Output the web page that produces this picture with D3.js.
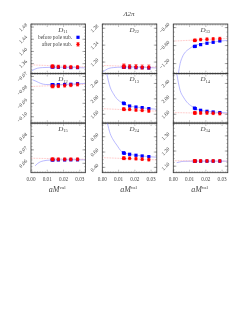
<!DOCTYPE html>
<html>
<head>
<meta charset="utf-8">
<script src="https://cdn.jsdelivr.net/npm/d3@7"></script>
<style>
  body { margin: 0; background: #fff; }
  svg { transform: translateZ(0); }
  text { font-family: "Liberation Serif", "DejaVu Serif", serif; fill: #444; }
</style>
</head>
<body>
<svg id="chart" width="241" height="312"></svg>
<script>
'use strict';

/* values */

var xVals = [0.0130, 0.0135, 0.0168, 0.0207, 0.0245, 0.0286];
var xTicks = [0.00, 0.01, 0.02, 0.03];
var xDomain = [0, 0.0335];

var panelSubs = ['11', '22', '33', '12', '13', '14', '15', '24', '34'];

var yDomains = [[1.327, 1.49], [1.1725, 1.29], [-1.425, -0.32],
                [-0.1048, -0.0678], [1.368, 2.658], [1.368, 2.658],
                [0.053, 0.09], [0.33, 0.98], [1.057, 1.385]];

var yTicks = [[1.36, 1.40, 1.44, 1.48], [1.20, 1.24, 1.28], [-1.20, -0.80, -0.40],
              [-0.10, -0.09, -0.08, -0.07], [1.60, 2.00, 2.40], [1.60, 2.00, 2.40],
              [0.06, 0.07, 0.08], [0.40, 0.60, 0.80], [1.10, 1.20, 1.30]];

// before pole subtraction (blue squares)
var beforeSub = [
  [1.349, 1.349, 1.348, 1.348, 1.347, 1.347],
  [1.188, 1.188, 1.188, 1.187, 1.187, 1.186],
  [-0.820, -0.816, -0.778, -0.748, -0.727, -0.697],
  [-0.0761, -0.0761, -0.0761, -0.0760, -0.0758, -0.0754],
  [1.890, 1.876, 1.814, 1.788, 1.773, 1.747],
  [1.760, 1.747, 1.703, 1.677, 1.659, 1.644],
  [0.0625, 0.0625, 0.0625, 0.0625, 0.0626, 0.0626],
  [0.590, 0.584, 0.571, 0.558, 0.549, 0.540],
  [1.133, 1.133, 1.133, 1.133, 1.133, 1.133]
];

// after pole subtraction (red circles)
var afterSub = [
  [1.351, 1.351, 1.350, 1.350, 1.349, 1.349],
  [1.190, 1.190, 1.189, 1.189, 1.188, 1.188],
  [-0.685, -0.682, -0.666, -0.658, -0.652, -0.643],
  [-0.0773, -0.0773, -0.0772, -0.0768, -0.0765, -0.0760],
  [1.735, 1.729, 1.729, 1.711, 1.703, 1.685],
  [1.635, 1.634, 1.634, 1.634, 1.626, 1.618],
  [0.0630, 0.0630, 0.0630, 0.0630, 0.0630, 0.0630],
  [0.520, 0.519, 0.519, 0.514, 0.507, 0.501],
  [1.135, 1.135, 1.135, 1.135, 1.135, 1.135]
];
var afterErr = [0.005, 0.005, 0.028, 0.0011, 0.035, 0.035, 0.0011, 0.018, 0.009];

// fit curves
var fitBefore = [
  [[0.0005, 1.337], [0.002, 1.341], [0.004, 1.345], [0.007, 1.347], [0.012, 1.348], [0.02, 1.348], [0.0335, 1.346]],
  [[0.0005, 1.177], [0.002, 1.181], [0.004, 1.185], [0.007, 1.187], [0.012, 1.188], [0.02, 1.188], [0.0335, 1.186]],
  [[0.0031, -1.43], [0.0042, -1.2], [0.0055, -1.06], [0.0075, -0.94], [0.0095, -0.88], [0.0124, -0.81],
   [0.016, -0.77], [0.02, -0.745], [0.025, -0.72], [0.03, -0.695], [0.0335, -0.685]],
  [[0.001, -0.0725], [0.003, -0.0735], [0.006, -0.0752], [0.009, -0.0760], [0.013, -0.0761], [0.02, -0.0759], [0.0335, -0.0752]],
  [[0.0027, 2.66], [0.0048, 2.305], [0.0068, 2.134], [0.0089, 2.005], [0.012, 1.902], [0.0168, 1.814],
   [0.0207, 1.788], [0.0245, 1.77], [0.0286, 1.747], [0.0335, 1.73]],
  [[0.0021, 2.66], [0.0042, 2.219], [0.0062, 2.046], [0.0083, 1.917], [0.0114, 1.806], [0.0135, 1.75],
   [0.0168, 1.703], [0.0207, 1.677], [0.0245, 1.659], [0.0286, 1.644], [0.0335, 1.635]],
  [[0.0025, 0.0581], [0.004, 0.0598], [0.0076, 0.0618], [0.012, 0.0624], [0.02, 0.0626], [0.0335, 0.0626]],
  [[0.0031, 0.98], [0.0048, 0.844], [0.0068, 0.757], [0.0089, 0.692], [0.012, 0.605], [0.0168, 0.571],
   [0.0207, 0.558], [0.0245, 0.549], [0.0286, 0.540], [0.0335, 0.532]],
  [[0.0021, 1.123], [0.004, 1.128], [0.006, 1.132], [0.012, 1.133], [0.0335, 1.133]]
];
var fitAfter = [
  [[0, 1.356], [0.0335, 1.349]],
  [[0, 1.192], [0.0335, 1.188]],
  [[0, -0.70], [0.0335, -0.64]],
  [[0, -0.0775], [0.0335, -0.0758]],
  [[0, 1.745], [0.0335, 1.68]],
  [[0, 1.644], [0.0335, 1.615]],
  [[0, 0.0638], [0.0335, 0.0630]],
  [[0, 0.527], [0.0335, 0.498]],
  [[0, 1.136], [0.0335, 1.134]]
];

var legendLabels = ['before pole sub.', 'after pole sub.'];
var title = '\u039B2\u03C0';

/* layout */
var colX = [31, 102.3, 173.3], rowY = [24, 73.5, 123];
var pw = 54.5, ph = 49.7;
var blue = '#0000ff', red = '#ff0000';

var svg = d3.select('#chart');

svg.append('text')
  .attr('x', 129).attr('y', 16)
  .attr('text-anchor', 'middle')
  .style('font-size', '7px').style('font-style', 'italic')
  .text(title);

var fmt = d3.format('.2f');

panelSubs.forEach(function (sub, i) {
  var r = Math.floor(i / 3), c = i % 3;
  var x0 = colX[c], y0 = rowY[r];
  var x = d3.scaleLinear().domain(xDomain).range([x0, x0 + pw]);
  var y = d3.scaleLinear().domain(yDomains[i]).range([y0 + ph, y0]);
  var g = svg.append('g');

  g.append('clipPath').attr('id', 'clip' + i)
    .append('rect').attr('x', x0).attr('y', y0).attr('width', pw).attr('height', ph);

  // minor ticks
  var step = yTicks[i][1] - yTicks[i][0];
  var minor = [];
  var lo = yTicks[i][0] - step * 2;
  for (var k = 0; k < 40; k++) {
    var v = lo + k * step / 4;
    if (v >= yDomains[i][0] && v <= yDomains[i][1]) minor.push(v);
  }
  g.selectAll('.ymin').data(minor).enter().append('line')
    .attr('x1', x0).attr('x2', x0 + 1.5)
    .attr('y1', function (d) { return y(d); }).attr('y2', function (d) { return y(d); })
    .attr('stroke', '#666').attr('stroke-width', 0.4);
  g.selectAll('.ymin2').data(minor).enter().append('line')
    .attr('x1', x0 + pw).attr('x2', x0 + pw - 1.5)
    .attr('y1', function (d) { return y(d); }).attr('y2', function (d) { return y(d); })
    .attr('stroke', '#666').attr('stroke-width', 0.4);
  g.selectAll('.ymaj').data(yTicks[i]).enter().append('line')
    .attr('x1', x0).attr('x2', x0 + 3)
    .attr('y1', function (d) { return y(d); }).attr('y2', function (d) { return y(d); })
    .attr('stroke', '#555').attr('stroke-width', 0.5);
  g.selectAll('.ymaj2').data(yTicks[i]).enter().append('line')
    .attr('x1', x0 + pw).attr('x2', x0 + pw - 3)
    .attr('y1', function (d) { return y(d); }).attr('y2', function (d) { return y(d); })
    .attr('stroke', '#555').attr('stroke-width', 0.5);

  var xMinor = d3.range(0, 34).map(function (k) { return k * 0.001; });
  [y0, y0 + ph].forEach(function (yy, j) {
    var dir = j === 0 ? 1 : -1;
    g.selectAll('.xmin' + j).data(xMinor).enter().append('line')
      .attr('x1', function (d) { return x(d); }).attr('x2', function (d) { return x(d); })
      .attr('y1', yy).attr('y2', function (d) { return yy + dir * (Math.abs(d * 100 - Math.round(d * 100)) < 1e-6 ? 3 : 1.5); })
      .attr('stroke', '#666').attr('stroke-width', 0.4);
  });

  // y tick labels, rotated 45 degrees
  g.selectAll('.ylab').data(yTicks[i]).enter().append('text')
    .style('font-size', '5.2px')
    .attr('text-anchor', 'middle').attr('dominant-baseline', 'central')
    .text(function (d) { return fmt(d); })
    .each(function (d) {
      var w = this.getComputedTextLength();
      var bw = (w + 4) * 0.7071;
      d3.select(this).attr('transform', 'translate(' + (x0 - 3.5 - bw / 2) + ',' + y(d) + ') rotate(-45)');
    });

  var line = d3.line().x(function (d) { return x(d[0]); }).y(function (d) { return y(d[1]); });
  var plot = g.append('g').attr('clip-path', 'url(#clip' + i + ')');

  plot.append('path').datum(fitBefore[i])
    .attr('d', line.curve(d3.curveMonotoneX))
    .attr('fill', 'none').attr('stroke', '#8c8cff').attr('stroke-width', 0.6);
  plot.append('path').datum(fitAfter[i])
    .attr('d', line.curve(d3.curveLinear))
    .attr('fill', 'none').attr('stroke', '#ff8c8c').attr('stroke-width', 0.6)
    .attr('stroke-dasharray', '0.8,0.8');

  plot.selectAll('.b').data(beforeSub[i]).enter().append('rect')
    .attr('x', function (d, j) { return x(xVals[j]) - 1.6; })
    .attr('y', function (d) { return y(d) - 1.6; })
    .attr('width', 3.2).attr('height', 3.2).attr('fill', blue);

  var err = afterErr[i];
  plot.selectAll('.e').data(afterSub[i]).enter().append('path')
    .attr('d', function (d, j) {
      var cx = x(xVals[j]), t = y(d + err), b = y(d - err);
      return 'M' + cx + ',' + t + 'V' + b + 'M' + (cx - 1.5) + ',' + t + 'H' + (cx + 1.5) +
        'M' + (cx - 1.5) + ',' + b + 'H' + (cx + 1.5);
    })
    .attr('stroke', red).attr('stroke-width', 0.6).attr('fill', 'none');
  plot.selectAll('.a').data(afterSub[i]).enter().append('circle')
    .attr('cx', function (d, j) { return x(xVals[j]); })
    .attr('cy', function (d) { return y(d); })
    .attr('r', 1.6).attr('fill', red);

  // frame
  g.append('rect').attr('x', x0).attr('y', y0).attr('width', pw).attr('height', ph)
    .attr('fill', 'none').attr('stroke', '#333').attr('stroke-width', 0.8);

  // panel label
  var lab = g.append('text').attr('x', x0 + 32).attr('y', y0 + 7.5)
    .attr('text-anchor', 'middle').style('font-size', '7px');
  lab.append('tspan').style('font-style', 'italic').text('D');
  lab.append('tspan').attr('dy', 1.5).style('font-size', '4.5px').text(sub);

  // bottom row: x tick labels and axis title
  if (r === 2) {
    g.selectAll('.xlab').data(xTicks).enter().append('text')
      .attr('x', function (d) { return x(d); }).attr('y', y0 + ph + 8)
      .attr('text-anchor', 'middle').style('font-size', '5.2px')
      .text(function (d) { return fmt(d); });
    var xt = g.append('text').attr('x', x0 + pw / 2 - 1).attr('y', y0 + ph + 19)
      .attr('text-anchor', 'middle').style('font-size', '8px');
    xt.append('tspan').style('font-style', 'italic').text('aM');
    xt.append('tspan').attr('dy', -3).style('font-size', '5px').text('val');
  }

  // legend in the first panel
  if (i === 0) {
    var ly = [37.3, 44.3];
    legendLabels.forEach(function (t, j) {
      g.append('text').attr('x', 72).attr('y', ly[j]).attr('text-anchor', 'end')
        .attr('dominant-baseline', 'central').style('font-size', '5.3px').text(t);
    });
    g.append('rect').attr('x', 78 - 1.6).attr('y', ly[0] - 1.6).attr('width', 3.2).attr('height', 3.2).attr('fill', blue);
    g.append('path').attr('d', 'M78,' + (ly[1] - 1.8) + 'V' + (ly[1] + 1.8) + 'M76.5,' + (ly[1] - 1.8) + 'H79.5M76.5,' + (ly[1] + 1.8) + 'H79.5')
      .attr('stroke', red).attr('stroke-width', 0.6);
    g.append('circle').attr('cx', 78).attr('cy', ly[1]).attr('r', 1.6).attr('fill', red);
  }
});
</script>
</body>
</html>
